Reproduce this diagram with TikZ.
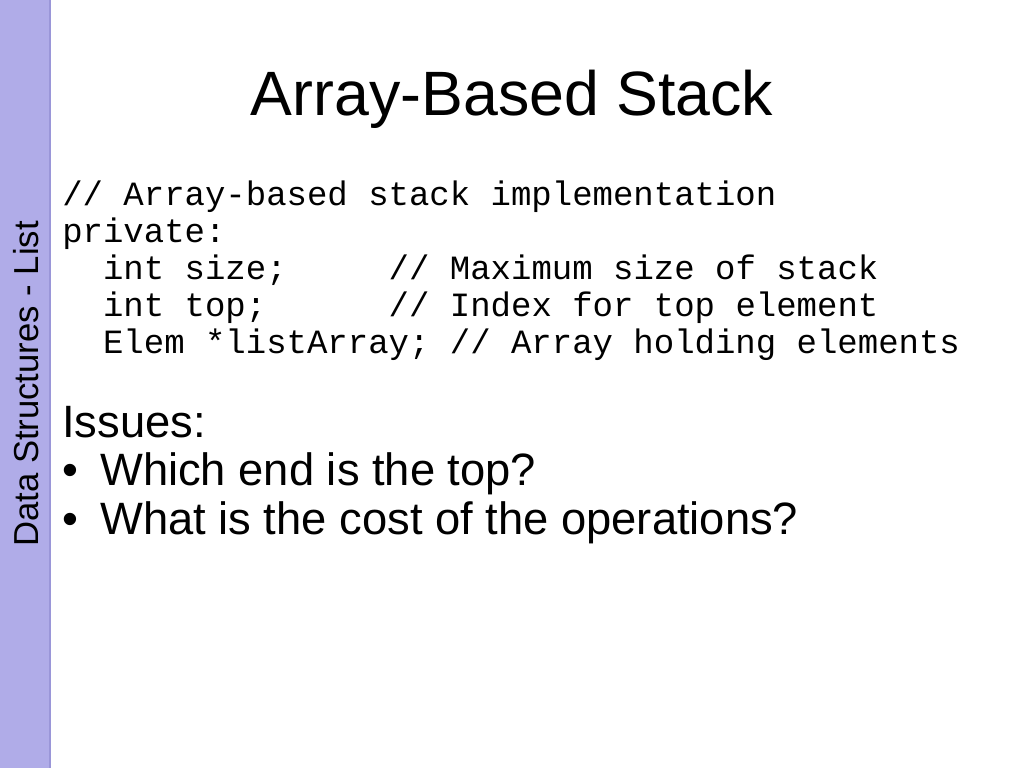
\documentclass[tikz,border=0pt]{standalone}
\usepackage{fontspec}
\setmainfont{Liberation Sans}
\newfontfamily\codefont{Liberation Mono}
\definecolor{side}{HTML}{B0ACE8}
\definecolor{sideedge}{HTML}{9A96D8}
\begin{document}
\begin{tikzpicture}[x=0.75pt,y=-0.75pt,
  code/.style={anchor=base west,inner sep=0pt,font=\codefont\fontsize{25.5}{28}\selectfont},
  txt/.style={anchor=base west,inner sep=0pt,font=\fontsize{34}{38}\selectfont}]
\useasboundingbox (0,0) rectangle (1024,768);
\fill[white] (0,0) rectangle (1024,768);
\fill[side] (0,0) rectangle (50,768);
\draw[sideedge,line width=1pt] (50,0) -- (50,768);
\node[rotate=90,inner sep=0pt,font=\fontsize{26}{30}\selectfont] (side) at (26,384) {Data Structures - List};
\node[inner sep=0pt,anchor=base,font=\fontsize{47}{52}\selectfont] (title) at (512,115) {Array-Based Stack};
\node[code] (c1) at (62,205) {// Array-based stack implementation};
\node[code] (c2) at (62,242) {private:};
\node[code] (c3) at (62,279) {\ \ int size;\ \ \ \ \ // Maximum size of stack};
\node[code] (c4) at (62,316) {\ \ int top;\ \ \ \ \ \ // Index for top element};
\node[code] (c5) at (62,353) {\ \ Elem *listArray; // Array holding elements};
\node[txt] (i0) at (62,437) {Issues:};
\node[txt] (b1) at (62,485) {•};
\node[txt] (i1) at (100,485) {Which end is the top?};
\node[txt] (b2) at (62,534) {•};
\node[txt] (i2) at (100,534) {What is the cost of the operations?};
\end{tikzpicture}
\end{document}
